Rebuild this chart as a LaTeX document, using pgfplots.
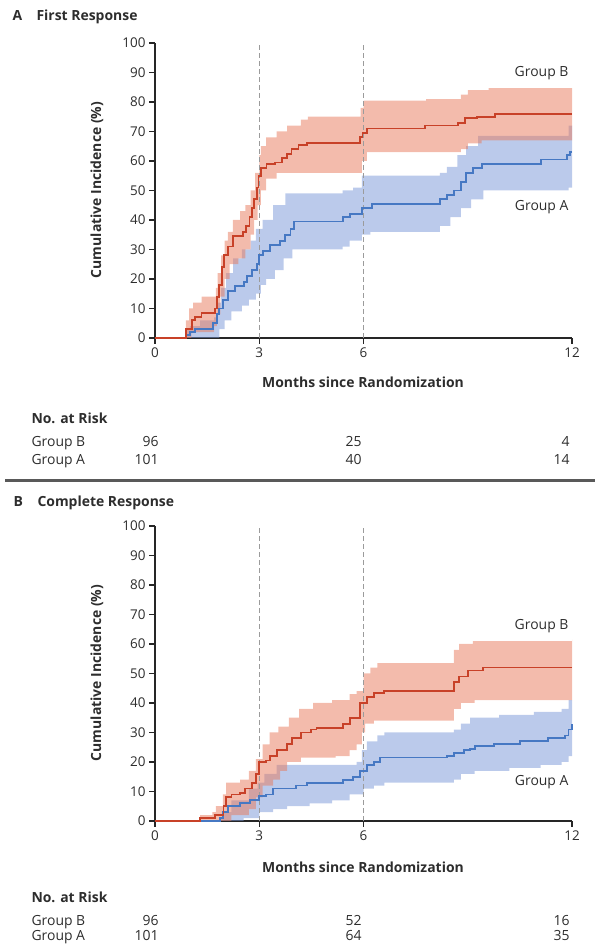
\documentclass[border=0pt]{standalone}
\usepackage{fontspec}
\setmainfont{Open Sans}
\usepackage{pgfplots}
\pgfplotsset{compat=1.18}
\usepgfplotslibrary{fillbetween}
\definecolor{redline}{RGB}{200,65,40}
\definecolor{redband}{RGB}{232,120,90}
\definecolor{blueline}{RGB}{70,120,195}
\definecolor{blueband}{RGB}{120,150,215}
\definecolor{txt}{RGB}{45,45,45}
\definecolor{dashgray}{RGB}{155,155,155}
\newcommand{\fb}{\fontsize{14}{14}\selectfont\bfseries}
\newcommand{\fr}{\fontsize{14}{14}\selectfont}
\pgfplotsset{km/.style={
  scale only axis, width=417bp, height=295bp,
  xmin=0, xmax=12, ymin=0, ymax=100,
  axis x line*=bottom, axis y line*=left,
  xtick={0,3,6,12}, ytick={0,10,...,100},
  tick align=outside, major tick length=6bp,
  axis line style={line width=1.7bp, color=black!85},
  tick style={line width=1.3bp, color=black!85},
  ticklabel style={font=\fontsize{13.5}{13.5}\selectfont, text=txt},
  /pgf/number format/assume math mode=true,
  clip=false,
}}
\pgfplotsset{vdash/.style={dashgray, dash pattern=on 5bp off 3bp, line width=1bp, forget plot}}
\begin{document}
\begin{tikzpicture}
% ---------------- Panel A ----------------
\node[anchor=base west, text=txt] at (9bp,924bp) {\fb A};
\node[anchor=base west, text=txt] at (33bp,924bp) {\fb First Response};
\begin{axis}[km, at={(155bp,607bp)}, anchor=south west]
\addplot[vdash] coordinates {(3,0) (3,100)};
\addplot[vdash] coordinates {(6,0) (6,100)};
% blue band
\addplot[name path=bu, draw=none, const plot] coordinates {(0,0)(0.89,3)(1.0,4)(1.3,6)(1.7,7)(1.8,12)(1.9,17)(2.05,22)(2.25,27)(2.5,30)(2.75,33)(2.9,37)(3.1,40)(3.4,45)(3.75,49)(5.4,50)(5.7,51)(5.95,55)(8.2,56)(8.4,58)(8.7,62)(8.95,65)(9.3,68.5)(11.9,72)(12,72)};
\addplot[name path=bl, draw=none, const plot] coordinates {(0,0)(1.75,0)(1.85,3)(2.0,6)(2.2,9)(2.5,11)(2.7,13)(2.9,15)(3.05,18)(3.2,20)(3.45,23)(3.7,27)(3.95,30)(5.4,31)(5.6,33)(5.95,35)(6.2,36)(8.2,38)(8.5,41)(8.8,44)(9.1,47)(9.45,50)(11.9,51)(12,52)};
\addplot[fill=blueband, fill opacity=0.5, draw=none] fill between[of=bu and bl];
% red band
\addplot[name path=ru, draw=none, const plot] coordinates {(0,0)(0.89,6)(0.98,10)(1.1,12)(1.34,14)(1.75,17)(1.8,22)(1.9,28)(2.0,33)(2.1,36)(2.24,40)(2.45,43)(2.6,45)(2.75,50)(2.88,56)(3.0,62)(3.05,65)(3.2,68)(3.5,70)(3.8,72)(4.2,74)(4.4,75)(5.92,78)(6.0,80.5)(7.8,81)(8.8,82.5)(9.0,84)(9.6,84.7)(12,84.5)};
\addplot[name path=rl, draw=none, const plot] coordinates {(0,0)(1.05,2)(1.7,4)(1.78,8)(1.88,14)(2.0,20)(2.15,25)(2.4,27)(2.6,30)(2.75,35)(2.85,40)(2.95,45)(3.05,50)(3.2,54)(3.5,56)(5.95,60)(6.1,63)(8.8,64)(9.0,66)(9.4,67)(12,67)};
\addplot[fill=redband, fill opacity=0.5, draw=none] fill between[of=ru and rl];
% lines
\addplot[blueline, line width=1.8bp, const plot] coordinates {(0,0)(0.89,1)(1.0,2)(1.15,3)(1.68,5)(1.78,8)(1.85,10)(1.95,13)(2.1,16)(2.3,17.5)(2.55,19)(2.65,21)(2.8,23)(2.93,25)(3.0,28)(3.1,29.5)(3.3,31.5)(3.6,33)(3.75,35)(3.9,37)(4.0,39.5)(5.4,41)(5.6,42)(5.95,44)(6.25,45.5)(8.2,47)(8.4,48.5)(8.6,50)(8.8,53)(8.95,56)(9.15,57.5)(9.4,59)(11.1,60.5)(11.85,62)(11.95,63)(12,63)};
\addplot[redline, line width=1.8bp, const plot] coordinates {(0,0)(0.89,3)(1.06,6)(1.15,7)(1.34,8.5)(1.73,10)(1.79,14)(1.85,18)(1.92,24)(1.99,28)(2.11,31)(2.24,34.5)(2.54,36)(2.61,38)(2.72,41)(2.78,44)(2.85,47)(2.93,51)(2.98,55)(3.04,57.5)(3.21,59)(3.45,59.5)(3.65,61)(3.79,62.5)(3.93,64)(4.13,65.5)(4.37,66)(5.90,68)(5.97,69.5)(6.09,71)(7.77,72)(8.73,73)(8.93,74.5)(9.26,75)(9.79,76)(12,76)};
\node[anchor=east, text=txt, font=\fr] at (axis cs:12,89.8) {Group B};
\node[anchor=east, text=txt, font=\fr] at (axis cs:12,44.4) {Group A};
\end{axis}
\node[rotate=90, text=txt] at (97bp,755bp) {\fb Cumulative Incidence (\%)};
\node[anchor=base, text=txt] at (363bp,557bp) {\fb Months since Randomization};
\node[anchor=base west, text=txt] at (28bp,521bp) {\fb No. at Risk};
\node[anchor=base west, text=txt] at (28bp,498bp) {\fr Group B};
\node[anchor=base west, text=txt] at (28bp,480bp) {\fr Group A};
\node[anchor=base east, text=txt] at (162bp,498bp) {\fr 96};
\node[anchor=base east, text=txt] at (365bp,498bp) {\fr 25};
\node[anchor=base east, text=txt] at (573bp,498bp) {\fr 4};
\node[anchor=base east, text=txt] at (162bp,480bp) {\fr 101};
\node[anchor=base east, text=txt] at (365bp,480bp) {\fr 40};
\node[anchor=base east, text=txt] at (573bp,480bp) {\fr 14};
% divider
\draw[black!65, line width=3bp] (5bp,464bp) -- (595bp,464bp);
% ---------------- Panel B ----------------
\node[anchor=base west, text=txt] at (10bp,438bp) {\fb B};
\node[anchor=base west, text=txt] at (34bp,438bp) {\fb Complete Response};
\begin{axis}[km, at={(155bp,124bp)}, anchor=south west]
\addplot[vdash] coordinates {(3,0) (3,100)};
\addplot[vdash] coordinates {(6,0) (6,100)};
\addplot[name path=bu, draw=none, const plot] coordinates {(0,0)(1.87,1)(1.97,3)(2.2,7)(2.7,11)(2.95,13)(3.15,16)(3.5,19)(5.8,20)(5.95,24)(6.1,27)(6.4,29)(6.6,30)(8.6,31)(8.8,33)(9.07,35)(9.9,36)(10.9,37)(11.7,38)(11.9,41)(12,41)};
\addplot[name path=bl, draw=none, const plot] coordinates {(0,0)(2.3,0)(2.55,1)(3.0,3)(3.4,4)(3.8,5)(4.45,6)(5.1,7)(5.6,9)(6.0,11)(6.3,12)(6.6,13)(8.6,14)(8.8,16)(9.2,17)(10.2,18)(11.1,19)(11.7,20)(11.9,22)(12,23)};
\addplot[fill=blueband, fill opacity=0.5, draw=none] fill between[of=bu and bl];
\addplot[name path=ru, draw=none, const plot] coordinates {(0,0)(1.3,2)(1.65,3)(1.75,5)(1.95,9)(2.05,13)(2.45,14)(2.7,17)(2.9,21)(3.1,26)(3.3,30)(3.55,32)(3.85,35)(4.15,38)(4.55,40)(5.1,41)(5.6,43)(5.8,44)(6.0,50)(6.2,52)(6.4,53.5)(8.6,58)(8.75,60)(9.15,61)(12,61.5)};
\addplot[name path=rl, draw=none, const plot] coordinates {(0,0)(1.95,0)(2.2,2)(2.7,4)(2.9,8)(3.1,12)(3.4,14)(3.6,17)(3.8,20)(4.2,21.5)(5.2,22)(5.6,24)(5.8,26)(5.95,30)(6.05,33)(6.3,34)(8.6,38)(8.8,40)(9.2,41)(12,41.5)};
\addplot[fill=redband, fill opacity=0.5, draw=none] fill between[of=ru and rl];
\addplot[blueline, line width=1.8bp, const plot] coordinates {(0,0)(1.87,1)(1.95,3)(2.1,5)(2.45,6)(2.74,7)(3.0,8.5)(3.2,9)(3.4,11)(4.05,12)(4.37,13)(5.4,14)(5.7,15)(5.9,17)(6.1,19)(6.3,20)(6.48,21.5)(8.4,22)(8.6,23)(8.9,24)(9.07,24.5)(9.2,25.5)(9.75,26)(10.5,27)(11.3,28)(11.8,29)(11.9,31)(12,33)};
\addplot[redline, line width=1.8bp, const plot] coordinates {(0,0)(1.3,1)(1.73,2)(1.97,5)(2.05,8)(2.2,9)(2.45,9.5)(2.6,11)(2.8,13)(2.9,16)(3.0,20)(3.2,20.5)(3.3,22)(3.5,24)(3.8,26)(3.95,28)(4.2,30)(4.5,31)(4.65,31.5)(5.4,33)(5.6,35)(5.9,40)(6.1,42)(6.3,43.5)(6.6,44)(8.6,47)(8.75,49)(9.0,51)(9.45,52)(12,52)};
\node[anchor=east, text=txt, font=\fr] at (axis cs:12,66.2) {Group B};
\node[anchor=east, text=txt, font=\fr] at (axis cs:12,13.2) {Group A};
\end{axis}
\node[rotate=90, text=txt] at (97bp,272bp) {\fb Cumulative Incidence (\%)};
\node[anchor=base, text=txt] at (363bp,72bp) {\fb Months since Randomization};
\node[anchor=base west, text=txt] at (28bp,42bp) {\fb No. at Risk};
\node[anchor=base west, text=txt] at (28bp,20bp) {\fr Group B};
\node[anchor=base west, text=txt] at (28bp,4.5bp) {\fr Group A};
\node[anchor=base east, text=txt] at (162bp,20bp) {\fr 96};
\node[anchor=base east, text=txt] at (365bp,20bp) {\fr 52};
\node[anchor=base east, text=txt] at (573bp,20bp) {\fr 16};
\node[anchor=base east, text=txt] at (162bp,4.5bp) {\fr 101};
\node[anchor=base east, text=txt] at (365bp,4.5bp) {\fr 64};
\node[anchor=base east, text=txt] at (573bp,4.5bp) {\fr 35};
\pgfresetboundingbox
\path[use as bounding box] (0,0) rectangle (595bp,945bp);
\end{tikzpicture}
\end{document}
